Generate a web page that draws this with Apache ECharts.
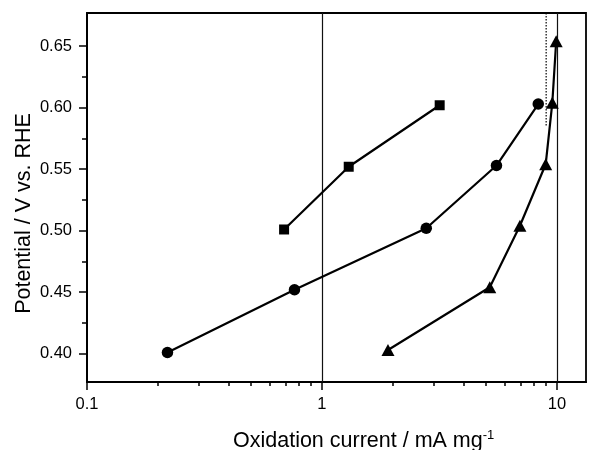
<!DOCTYPE html>
<html><head><meta charset="utf-8">
<script src="https://cdn.jsdelivr.net/npm/echarts@6/dist/echarts.min.js"></script>
<style>html,body{margin:0;padding:0;background:#fff}#c{width:592px;height:450px}</style>
</head><body><div id="c"></div>
<script>
// ---- data ----
const squareX = [0.69, 1.30, 3.17];
const squareY = [0.501, 0.552, 0.602];
const circleX = [0.22, 0.764, 2.78, 5.53, 8.33];
const circleY = [0.401, 0.452, 0.502, 0.553, 0.603];
const triangleX = [1.91, 5.18, 6.96, 8.96, 9.56, 9.93];
const triangleY = [0.403, 0.454, 0.504, 0.554, 0.604, 0.654];
const xTickValues = [0.1, 1, 10];
const xMinorTickValues = [0.2, 0.3, 0.4, 0.5, 0.6, 0.7, 0.8, 0.9, 2, 3, 4, 5, 6, 7, 8, 9];
const yTickValues = [0.40, 0.45, 0.50, 0.55, 0.60, 0.65];
const yMinorTickValues = [0.425, 0.475, 0.525, 0.575, 0.625];
const gridLineX = [1, 10];
const dottedX = [9.0, 9.0];
const dottedY = [0.677, 0.585];
const xTitle = 'Oxidation current / mA mg';
const xTitleSup = '-1';
const yTitle = 'Potential / V vs. RHE';

const FONT = "'Liberation Sans', Arial, sans-serif";
const zip = (a, b) => a.map((v, i) => [v, b[i]]);
const X_MIN = 0.1, X_MAX = 13.3, Y_MIN = 0.377, Y_MAX = 0.677;

const chart = echarts.init(document.getElementById('c'), null, {renderer: 'canvas'});
const lineSeries = (name, xs, ys, symbol, size) => ({
  name, type: 'line', data: zip(xs, ys), symbol, symbolSize: size,
  showSymbol: true, lineStyle: {color: '#000', width: 2.2},
  itemStyle: {color: '#000', borderWidth: 0}, z: 5, clip: false, animation: false
});

chart.setOption({
  animation: false,
  backgroundColor: '#fff',
  grid: {left: 87, right: 6, top: 13, bottom: 68, show: true, borderColor: '#000', borderWidth: 1.8, backgroundColor: 'transparent'},
  xAxis: [{
    type: 'log', logBase: 10, min: X_MIN, max: X_MAX, position: 'bottom',
    axisLine: {show: true, lineStyle: {color: '#000', width: 2}},
    axisTick: {show: true, customValues: xTickValues, length: 8, lineStyle: {color: '#000', width: 1.5}},
    axisLabel: {show: true, customValues: xTickValues, margin: 14, color: '#000', fontSize: 16.5, fontFamily: FONT,
      formatter: v => v < 1 ? Number(v).toFixed(1) : String(Math.round(v))},
    splitLine: {show: false}, minorTick: {show: false}
  }, {
    type: 'log', logBase: 10, min: X_MIN, max: X_MAX, position: 'bottom',
    axisLine: {show: false},
    axisTick: {show: true, customValues: xMinorTickValues, length: 4, lineStyle: {color: '#000', width: 1.5}},
    axisLabel: {show: false}, splitLine: {show: false}
  }],
  yAxis: [{
    type: 'value', min: Y_MIN, max: Y_MAX, position: 'left',
    axisLine: {show: true, lineStyle: {color: '#000', width: 2}},
    axisTick: {show: true, customValues: yTickValues, length: 8, lineStyle: {color: '#000', width: 1.5}},
    axisLabel: {show: true, customValues: yTickValues, margin: 15, color: '#000', fontSize: 16.5, fontFamily: FONT,
      formatter: v => Number(v).toFixed(2)},
    splitLine: {show: false}
  }, {
    type: 'value', min: Y_MIN, max: Y_MAX, position: 'left',
    axisLine: {show: false},
    axisTick: {show: true, customValues: yMinorTickValues, length: 5, lineStyle: {color: '#000', width: 1.5}},
    axisLabel: {show: false}, splitLine: {show: false}
  }],
  series: [
    {
      name: 'gridlines', type: 'line', data: [], silent: true,
      markLine: {silent: true, symbol: 'none', label: {show: false},
        lineStyle: {color: '#111', width: 1.2, type: 'solid'},
        data: gridLineX.map(v => ({xAxis: v}))}
    },
    {
      name: 'dotted', type: 'line', data: zip(dottedX, dottedY), symbol: 'none',
      lineStyle: {color: '#000', width: 1.2, type: [1.5, 1.5]}, z: 3, silent: true
    },
    lineSeries('square', squareX, squareY, 'rect', 10),
    lineSeries('circle', circleX, circleY, 'circle', 11.5),
    lineSeries('triangle', triangleX, triangleY, 'triangle', [13, 12])
  ],
  graphic: [
    {type: 'text', x: 24, y: 213.5, rotation: Math.PI / 2,
      style: {text: yTitle, font: '21.5px ' + FONT, fill: '#000', textAlign: 'center', textVerticalAlign: 'middle'}},
    {type: 'text', x: 233, y: 441,
      style: {text: xTitle + '{sup|' + xTitleSup + '}', font: '21.5px ' + FONT, fill: '#000',
        textAlign: 'left', textVerticalAlign: 'middle', lineHeight: 24,
        rich: {sup: {fontSize: 13, fontFamily: FONT, verticalAlign: 'top', lineHeight: 13, fill: '#000'}}}}
  ]
});
</script>
</body></html>
